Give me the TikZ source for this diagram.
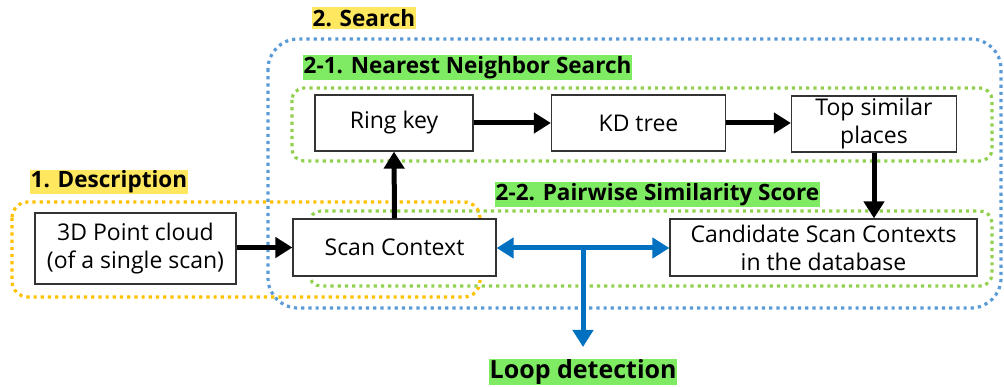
\documentclass[tikz,border=0pt]{standalone}
\usepackage{fontspec}
\setmainfont{Open Sans}
\usetikzlibrary{arrows.meta}
\definecolor{cblue}{HTML}{5B9BD5}
\definecolor{cgreen}{HTML}{92D050}
\definecolor{corange}{HTML}{FFC000}
\definecolor{hyellow}{HTML}{FFE75F}
\definecolor{hgreen}{HTML}{7FEB63}
\definecolor{ablue}{HTML}{0070C0}
\begin{document}
\begin{tikzpicture}[x=1pt,y=-1pt,
  box/.style={draw=black!80,line width=1.2pt,fill=white,inner sep=0pt,align=center,font=\fontsize{23}{28}\selectfont},
  region/.style={line width=3.2pt,dash pattern=on 3.2pt off 4pt,rounded corners=#1},
  lab/.style={inner sep=0.5pt,font=\fontsize{22.5}{26}\selectfont\bfseries,anchor=north west},
  blk/.style={line width=5pt,-{Triangle[length=17pt,width=20pt]}},
  blu/.style={line width=5pt,draw=ablue,-{Triangle[length=17pt,width=20pt]}}]
\useasboundingbox (0,0) rectangle (1004,387);
% regions
\draw[region=30pt,cblue] (268,39) rectangle (1001,308);
\draw[region=12pt,cgreen] (292,88) rectangle (992,161);
\draw[region=12pt,cgreen] (309,211) rectangle (992,286);
\draw[region=16pt,corange] (12,202) rectangle (480,297);
% labels
\node[lab,fill=hyellow,minimum height=22pt] (l2) at (312,7) {2. Search};
\node[lab,fill=hgreen,minimum height=25pt] (l21) at (303,55) {2-1. Nearest Neighbor Search};
\node[lab,fill=hyellow,minimum height=23pt] (l1) at (30,170) {1. Description};
\node[lab,fill=hgreen,minimum height=25pt] (l22) at (495,182) {2-2. Pairwise Similarity Score};
\node[lab,fill=hgreen,minimum height=26pt,font=\fontsize{25}{28}\selectfont\bfseries] (lloop) at (489,359) {Loop detection};
% boxes
\node[box,minimum width=158pt,minimum height=56pt] (ring) at (394,123) {Ring key};
\node[box,minimum width=174pt,minimum height=56pt] (kd) at (638.5,123) {KD tree};
\node[box,minimum width=165pt,minimum height=56pt] (top) at (874,124) {Top similar\\places};
\node[box,minimum width=201pt,minimum height=71pt] (pc) at (135.5,248.5) {3D Point cloud\\(of a single scan)};
\node[box,minimum width=203pt,minimum height=57pt] (sc) at (394.5,247.5) {Scan Context};
\node[box,minimum width=307pt,minimum height=57pt] (cand) at (823.5,247.5) {Candidate Scan Contexts\\in the database};
\coordinate (j) at (583,248);
% arrows
\draw[blk] (pc.east|-sc.west) -- (sc.west);
\draw[blk] (sc.north) -- (ring.south);
\draw[blk] (ring.east) -- (kd.west);
\draw[blk] (kd.east) -- (top.west|-kd.east);
\draw[blk] (top.south) -- (top.south|-cand.north);
\draw[blu] (j) -- (sc.east|-j);
\draw[blu] (j) -- (cand.west|-j);
\draw[blu] (j) -- (583,347) coordinate (jd);
\end{tikzpicture}
\end{document}
